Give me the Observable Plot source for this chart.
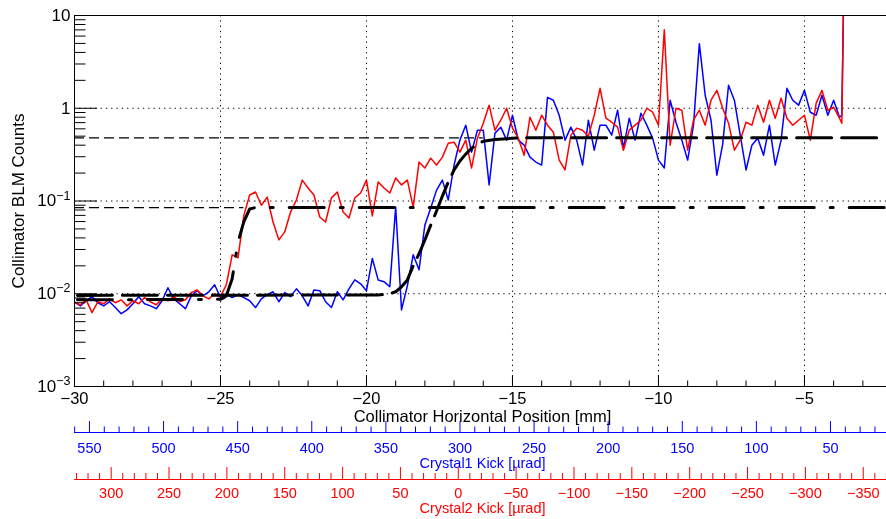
<!DOCTYPE html>
<html><head><meta charset="utf-8">
<script src="https://cdn.jsdelivr.net/npm/d3@7"></script>
<script src="https://cdn.jsdelivr.net/npm/@observablehq/plot@0.6"></script>
<style>
body{margin:0;background:#fff;}
#chart{width:886px;height:519px;overflow:hidden;background:#fff;}
#chart svg{display:block;}
</style></head><body><div id="chart"></div>
<script>
// ---- data ----
const positions = [
-30,-29.8,-29.6,-29.4,-29.2,-29,-28.8,-28.6,-28.4,-28.2,
-28,-27.8,-27.6,-27.4,-27.2,-27,-26.8,-26.6,-26.4,-26.2,
-26,-25.8,-25.6,-25.4,-25.2,-25,-24.8,-24.6,-24.4,-24.2,
-24,-23.8,-23.6,-23.4,-23.2,-23,-22.8,-22.6,-22.4,-22.2,
-22,-21.8,-21.6,-21.4,-21.2,-21,-20.8,-20.6,-20.4,-20.2,
-20,-19.8,-19.6,-19.4,-19.2,-19,-18.8,-18.6,-18.4,-18.2,
-18,-17.8,-17.6,-17.4,-17.2,-17,-16.8,-16.6,-16.4,-16.2,
-16,-15.8,-15.6,-15.4,-15.2,-15,-14.8,-14.6,-14.4,-14.2,
-14,-13.8,-13.6,-13.4,-13.2,-13,-12.8,-12.6,-12.4,-12.2,
-12,-11.8,-11.6,-11.4,-11.2,-11,-10.8,-10.6,-10.4,-10.2,
-10,-9.8,-9.6,-9.4,-9.2,-9,-8.8,-8.6,-8.4,-8.2,
-8,-7.8,-7.6,-7.4,-7.2,-7,-6.8,-6.6,-6.4,-6.2,
-6,-5.8,-5.6,-5.4,-5.2,-5,-4.8,-4.6,-4.4,-4.2,
-4,-3.8,-3.72,-3.66];

const blueCounts = [
0.0082,0.0074,0.0084,0.0093,0.0080,0.0074,0.0082,0.0071,0.0061,0.0067,
0.0078,0.0093,0.0078,0.0074,0.0069,0.0084,0.0116,0.0088,0.0078,0.0069,
0.0095,0.0108,0.0095,0.0105,0.0125,0.0091,0.0100,0.0091,0.0098,0.0091,
0.0084,0.0071,0.0088,0.0098,0.0105,0.0082,0.0103,0.0093,0.0113,0.0095,
0.0074,0.0110,0.0108,0.0082,0.0071,0.0105,0.0086,0.0113,0.0141,0.0128,
0.0108,0.0240,0.0141,0.0135,0.0119,0.086,0.0067,0.0122,0.0263,0.0181,
0.0552,0.084,0.131,0.168,0.1025,0.244,0.453,0.657,0.336,0.58,
0.58,0.149,0.539,0.625,0.453,0.841,0.453,0.40,0.297,0.263,
0.244,1.31,1.22,0.841,0.453,0.625,0.453,0.244,0.743,0.353,
0.657,0.657,0.513,0.952,0.371,0.781,0.453,0.884,0.657,0.476,
0.276,0.227,1.22,0.707,0.453,0.276,0.657,4.97,1.38,0.743,
0.190,0.410,1.77,1.22,0.513,0.216,0.40,0.476,0.312,0.657,
0.244,0.453,1.64,1.22,1.08,1.56,0.906,0.841,1.38,0.841,
1.22,0.800,0.841,15];

const redCounts = [
0.0080,0.0076,0.0086,0.00625,0.0082,0.0078,0.0088,0.0080,0.0086,0.0074,
0.0084,0.0078,0.0091,0.0082,0.0076,0.0088,0.0084,0.0093,0.0082,0.0086,
0.0103,0.0110,0.0095,0.0088,0.0100,0.0093,0.0125,0.0263,0.0244,0.070,
0.116,0.125,0.090,0.110,0.0594,0.0381,0.0464,0.0762,0.1025,0.168,
0.138,0.116,0.0672,0.0594,0.108,0.125,0.0762,0.0656,0.108,0.122,
0.168,0.069,0.160,0.138,0.122,0.177,0.149,0.168,0.086,0.263,
0.227,0.290,0.244,0.297,0.420,0.431,0.336,0.453,0.227,0.476,
0.690,1.08,0.58,0.743,1.00,0.61,0.476,0.312,0.800,0.58,
0.841,0.657,0.552,0.276,0.216,0.513,0.61,0.58,0.50,0.841,
1.64,0.781,0.707,0.625,0.353,0.58,0.657,0.743,1.00,0.906,
0.657,7.0,0.40,1.00,0.952,0.353,0.743,0.952,0.657,1.22,
1.56,1.00,0.690,0.353,0.453,0.707,0.657,1.08,0.707,1.22,
0.781,1.28,0.781,0.657,0.743,0.841,0.453,1.13,1.56,0.952,
1.025,0.781,0.690,15];

const blueFitX = [-29.9,-19.6,-19.2,-19.0,-18.8,-18.6,-18.4,-18.2,-18.0,-17.8,-17.6,-17.4,-17.2,-17.0,-16.8,-16.6,-16.4,-16.2,-16.0,-15.6,-15.2,-14.8,-2.19];
const blueFitY = [0.0096,0.0097,0.0100,0.0105,0.0119,0.0141,0.020,0.027,0.038,0.055,0.078,0.113,0.160,0.216,0.27,0.32,0.37,0.41,0.44,0.46,0.47,0.48,0.48];
const redFitX = [-29.9,-25.0,-24.9,-24.8,-24.6,-24.4,-24.2,-24.0,-23.8,-23.6,-2.19];
const redFitY = [0.0086,0.0087,0.0090,0.0095,0.0145,0.036,0.060,0.082,0.085,0.085,0.085];

const refLevels = [0.48, 0.085];
const refEnds = [-16.0, -24.2];

const xMajorTicks = [-30,-25,-20,-15,-10,-5];
const xMinorTicks = [-29,-28,-27,-26,-24,-23,-22,-21,-19,-18,-17,-16,-14,-13,-12,-11,-9,-8,-7,-6,-4,-3];
const xGrid = [-25,-20,-15,-10,-5];
const yMajorTicks = [0.001,0.01,0.1,1,10];
const yTickLabels = ["10^-3","10^-2","10^-1","1","10"];
const yGrid = [0.01,0.1,1,10];
const yMinorTicks = [0.002,0.003,0.004,0.005,0.006,0.007,0.008,0.009,
  0.02,0.03,0.04,0.05,0.06,0.07,0.08,0.09,
  0.2,0.3,0.4,0.5,0.6,0.7,0.8,0.9,
  2,3,4,5,6,7,8,9];

const crystal1Major = [550,500,450,400,350,300,250,200,150,100,50];
const crystal1Minor = [560,540,530,520,510,490,480,470,460,440,430,420,410,390,380,370,360,340,330,320,310,
  290,280,270,260,240,230,220,210,190,180,170,160,140,130,120,110,90,80,70,60,40,30,20];
const crystal2Major = [300,250,200,150,100,50,0,-50,-100,-150,-200,-250,-300,-350];
const crystal2Minor = [330,320,310,290,280,270,260,240,230,220,210,190,180,170,160,140,130,120,110,
  90,80,70,60,40,30,20,10,-10,-20,-30,-40,-60,-70,-80,-90,-110,-120,-130,-140,
  -160,-170,-180,-190,-210,-220,-230,-240,-260,-270,-280,-290,-310,-320,-330,-340,-360,-370];

const xTitle = "Collimator Horizontal Position [mm]";
const yTitle = "Collimator BLM Counts";
const crystal1Title = "Crystal1 Kick [\u00b5rad]";
const crystal2Title = "Crystal2 Kick [\u00b5rad]";

// ---- build ----
const FONT = '"Liberation Sans", Arial, Helvetica, sans-serif';
const blueData = positions.map((x, i) => ({x, y: blueCounts[i]}));
const redData = positions.map((x, i) => ({x, y: redCounts[i]}));
const blueFit = blueFitX.map((x, i) => ({x, y: blueFitY[i]}));
const redFit = redFitX.map((x, i) => ({x, y: redFitY[i]}));
const refs = refLevels.map((y, i) => ({y, end: refEnds[i]}));

const main = Plot.plot({
  width: 886, height: 426,
  marginLeft: 74, marginRight: 0, marginTop: 15, marginBottom: 40,
  style: {fontFamily: FONT, fontSize: "16px", color: "black", background: "white", overflow: "visible"},
  x: {domain: [-30, -2.19]},
  y: {type: "log", domain: [0.001, 10]},
  marks: [
    Plot.ruleX(xGrid, {stroke: "black", strokeWidth: 1, strokeDasharray: "1.3,4"}),
    Plot.ruleY(yGrid, {stroke: "black", strokeWidth: 1, strokeDasharray: "1.3,4"}),
    Plot.ruleY(refs, {y: "y", x1: -30, x2: "end", stroke: "black", strokeWidth: 1.2, strokeDasharray: "10,5"}),
    Plot.line(blueData, {x: "x", y: "y", stroke: "#0000ff", strokeWidth: 1.5, clip: true}),
    Plot.line(redData, {x: "x", y: "y", stroke: "#ff0000", strokeWidth: 1.5, clip: true, mixBlendMode: "multiply"}),
    Plot.line(blueFit, {x: "x", y: "y", stroke: "black", strokeWidth: 3, strokeDasharray: "35,10"}),
    Plot.line(redFit, {x: "x", y: "y", stroke: "black", strokeWidth: 3, strokeDasharray: "35,16,3,16"}),
    Plot.ruleX([-30], {stroke: "black"}),
    Plot.ruleY([0.001, 10], {stroke: "black"}),
    Plot.axisX({ticks: xMinorTicks, tickSize: -5.5, tickFormat: () => "", label: null}),
    Plot.axisX({ticks: xMajorTicks, tickSize: -11, tickPadding: 17, label: null, fontSize: 16.5}),
    Plot.axisY({ticks: yMinorTicks, tickSize: -11.5, tickFormat: () => "", label: null}),
    Plot.axisY({ticks: yMajorTicks, tickSize: -23, tickPadding: 27, label: null, fontSize: 17,
      tickFormat: (d) => yTickLabels[yMajorTicks.indexOf(d)]}),
    Plot.text([xTitle], {frameAnchor: "bottom", dy: 30.7, dx: 2, fontSize: 16.5, lineAnchor: "middle", textAnchor: "middle", fill: "black"}),
    Plot.text([yTitle], {frameAnchor: "left", rotate: -90, dx: -56, fontSize: 17, lineAnchor: "middle", textAnchor: "middle", fill: "black"})
  ]
});

// superscripts for the log tick labels
d3.select(main).selectAll('g[aria-label="y-axis tick label"] text').each(function () {
  const t = this.textContent;
  if (t.includes("^")) {
    const [b, e] = t.split("^");
    this.textContent = "";
    d3.select(this).append("tspan").text(b);
    d3.select(this).append("tspan").attr("dy", "-0.55em").attr("font-size", "12.5px").text(e.replace("-", "\u2212"));
  }
});

function kickAxis(domain, major, minor, color, title, h, line, majorLen, minorLen, pad, titleDy) {
  return Plot.plot({
    width: 886, height: h,
    marginLeft: 74, marginRight: 0, marginTop: 0, marginBottom: h - line,
    style: {fontFamily: FONT, fontSize: "14.5px", color, background: "white", overflow: "visible"},
    x: {domain},
    y: {domain: [0, 1], axis: null},
    marks: [
      Plot.ruleY([0], {stroke: color}),
      Plot.axisX({ticks: minor, tickSize: -minorLen, tickFormat: () => "", label: null}),
      Plot.axisX({ticks: major, tickSize: -majorLen, tickPadding: pad, label: null}),
      Plot.text([title], {frameAnchor: "bottom", dy: titleDy, dx: 2, fontSize: 14.5, lineAnchor: "middle", fill: color})
    ]
  });
}

const ax1 = kickAxis([560.1, 12.2], crystal1Major, crystal1Minor, "#0000ff", crystal1Title, 46, 6, 11, 5.5, 21, 31);
const ax2 = kickAxis([331.7, -370.1], crystal2Major, crystal2Minor, "#ff0000", crystal2Title, 47, 7, 12, 6, 20, 29);

const c = document.getElementById("chart");
c.appendChild(main);
c.appendChild(ax1);
c.appendChild(ax2);
</script></body></html>
